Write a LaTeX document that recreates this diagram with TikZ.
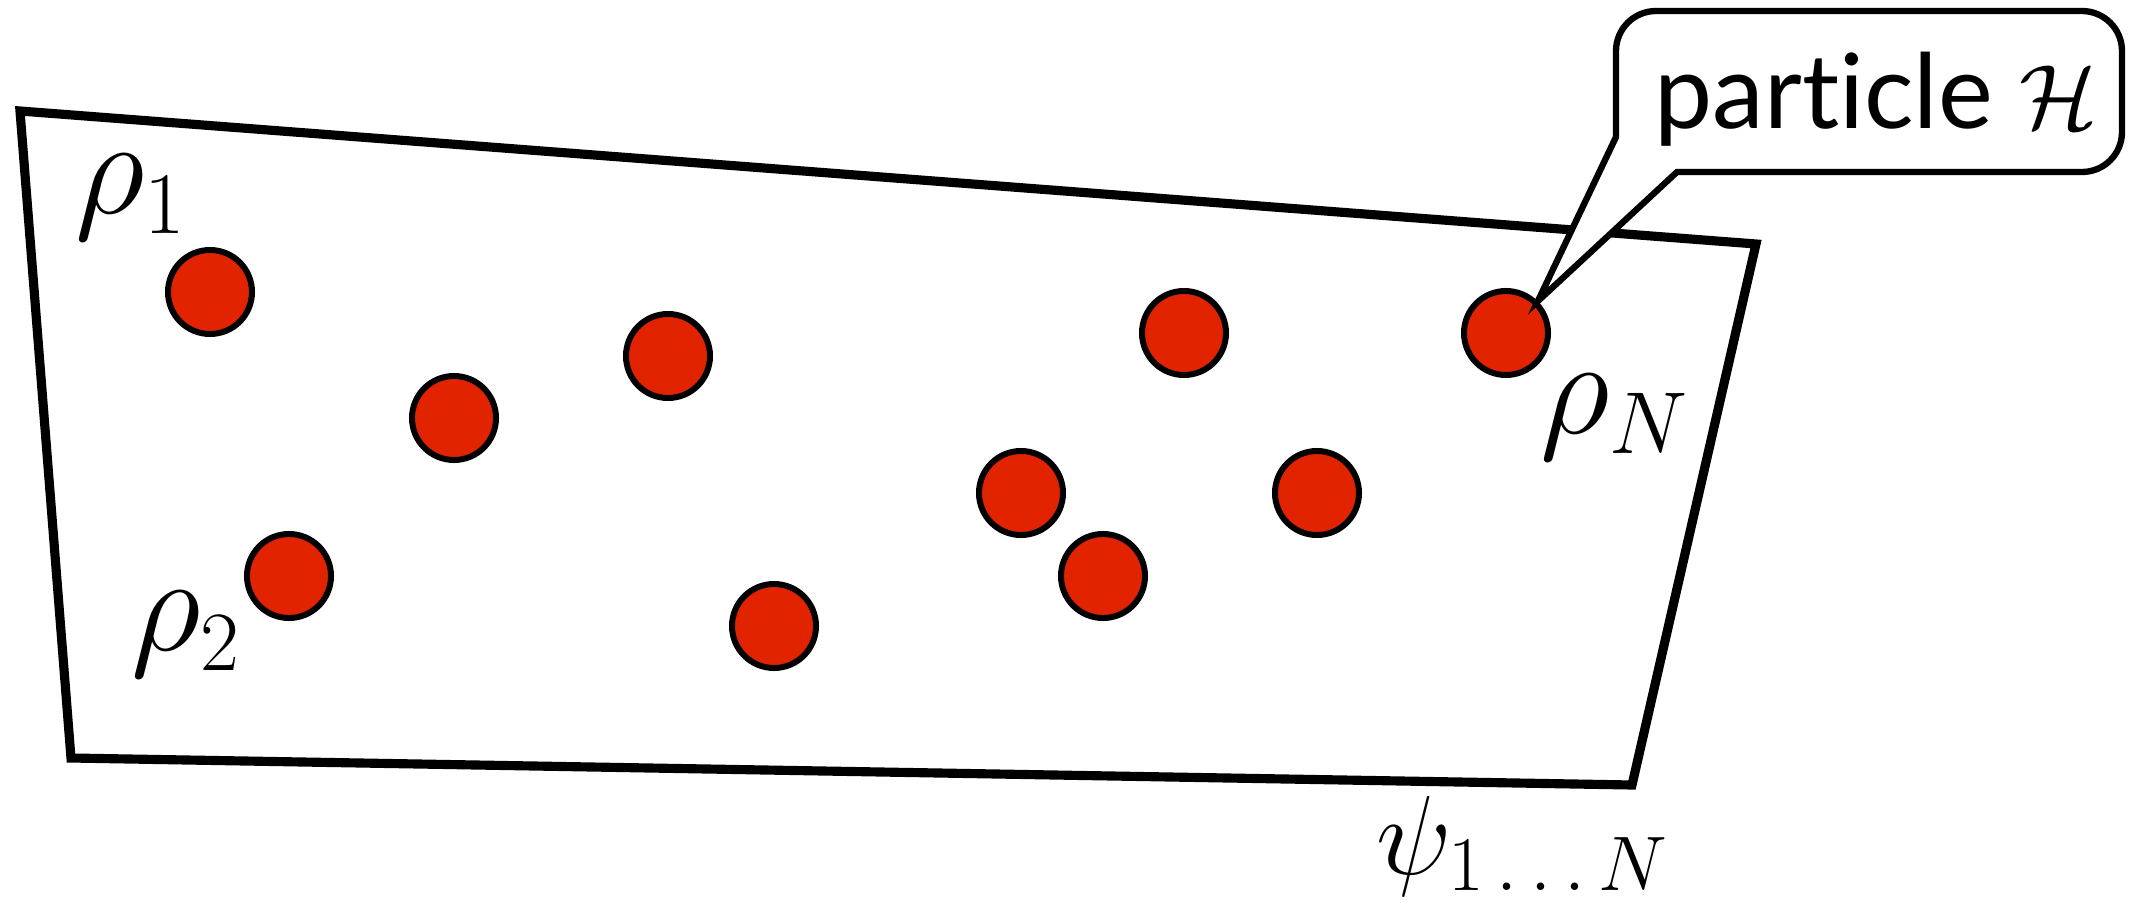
\RequirePackage{fix-cm}
\documentclass[tikz,border=0pt]{standalone}
\usepackage{fontspec}
\newfontfamily\callfont[Ligatures=NoCommon]{Lato}
\newcommand\lblsub[2]{_{\mbox{\fontsize{#1}{#1}\selectfont$#2$}}}
\definecolor{dotred}{RGB}{225,35,0}
\begin{document}
\begin{tikzpicture}[x=0.01cm,y=-0.01cm,
  dot/.style={circle,draw=black,line width=1.7pt,fill=dotred,minimum size=0.84cm,inner sep=0pt},
  lbl/.style={font=\fontsize{39}{46}\selectfont,inner sep=0pt,anchor=base west},
  region/.style={draw=black,line width=2.6pt,line join=miter},
  callout/.style={draw=black,line width=1.8pt,fill=white,line join=miter}]
\useasboundingbox (0,0) rectangle (2129,903);
% region
\coordinate (q1) at (20,111);
\coordinate (q2) at (1756,244);
\coordinate (q3) at (1632,785);
\coordinate (q4) at (71,758);
\draw[region] (q1) -- (q2) -- (q3) -- (q4) -- cycle;
% particles
\node[dot] (p1) at (210,292) {};
\node[dot] (p2) at (454,418) {};
\node[dot] (p3) at (668,356) {};
\node[dot] (p4) at (289,576) {};
\node[dot] (p5) at (774,626) {};
\node[dot] (p6) at (1184,333) {};
\node[dot] (p7) at (1506,333) {};
\node[dot] (p8) at (1021,493) {};
\node[dot] (p9) at (1317,493) {};
\node[dot] (p10) at (1103,576) {};
% labels
\node[lbl] (r1) at (75,213) {$\rho\lblsub{25}{1}$};
\node[lbl] (r2) at (131,650) {$\rho\lblsub{24}{2}$};
\node[lbl] (rN) at (1540,433) {$\rho\lblsub{25}{N}$};
\node[lbl,font=\fontsize{32}{38}\selectfont] (psi) at (1376,874) {$\psi\lblsub{22}{1\ldots N}$};
% callout
\coordinate (tip) at (p7.45);
\coordinate (cl) at (1616,137);
\coordinate (cb) at (1677,172);
\draw[callout] (tip) -- (cb) [rounded corners=0.4cm] -- (2122,172) -- (2122,11) -- (1616,11) [sharp corners] -- (cl) -- cycle;
\node[inner sep=0pt,anchor=base,font=\callfont\fontsize{29.5}{35}\selectfont] (ct) at (1876,128) {particle {\fontsize{26}{31}\selectfont$\mathcal{H}$}};
\end{tikzpicture}
\end{document}
